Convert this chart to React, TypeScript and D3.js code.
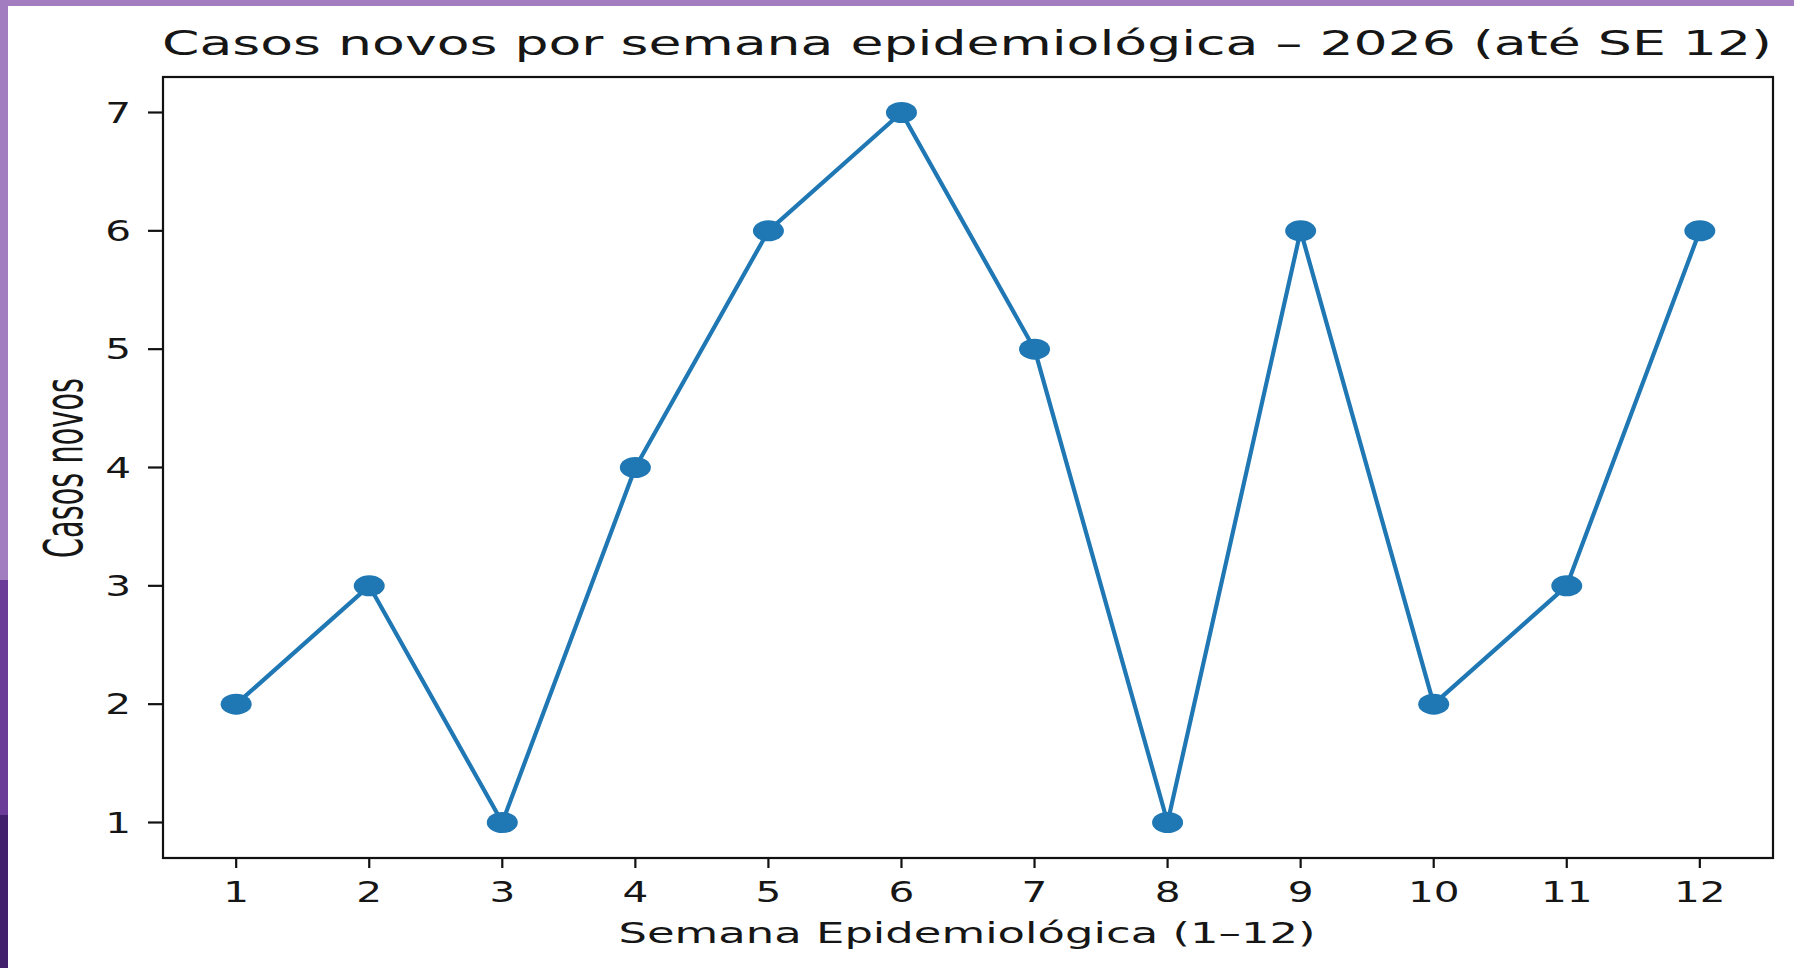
import React from "react";
import * as d3 from "d3";

const weeks: number[] = [1, 2, 3, 4, 5, 6, 7, 8, 9, 10, 11, 12];
const cases: number[] = [2, 3, 1, 4, 6, 7, 5, 1, 6, 2, 3, 6];
const yTicks: number[] = [1, 2, 3, 4, 5, 6, 7];
const titleText = "Casos novos por semana epidemiológica – 2026 (até SE 12)";
const xLabelText = "Semana Epidemiológica (1–12)";
const yLabelText = "Casos novos";

const W = 1794;
const H = 968;
const frame = { left: 163, right: 1773, top: 77, bottom: 858 };
const FONT = "DejaVu Sans, Verdana, sans-serif";
const TXT = "#161616";
const BLUE = "#1f77b4";
const SX = 1.45;
const TSX = 1.55;

export default function App() {
  const x = d3.scaleLinear().domain([0.45, 12.55]).range([frame.left, frame.right]);
  const y = d3.scaleLinear().domain([0.7, 7.3]).range([frame.bottom, frame.top]);
  const line = d3
    .line<number>()
    .x((_, i) => x(weeks[i]))
    .y((d) => y(d));

  return (
    <svg
      width={W}
      height={H}
      style={{ position: "fixed", left: 0, top: 0, background: "#fff" }}
      xmlns="http://www.w3.org/2000/svg"
    >
      <rect x={0} y={0} width={W} height={H} fill="#ffffff" />
      {/* slide decorations */}
      <rect x={0} y={0} width={W} height={6} fill="#a27dc0" />
      <rect x={0} y={0} width={8} height={H} fill="#a27dc0" />
      <rect x={0} y={580} width={8} height={235} fill="#6b3d98" />
      <rect x={0} y={815} width={8} height={H - 815} fill="#42206b" />

      {/* title */}
      <text
        transform={`translate(${(frame.left + frame.right) / 2 - 1},${55}) scale(${TSX},1)`}
        fontFamily={FONT}
        fontSize={34}
        fill={TXT}
        textAnchor="middle"
        textLength={1610 / TSX}
        lengthAdjust="spacingAndGlyphs"
      >
        {titleText}
      </text>

      {/* line + markers */}
      <path d={line(cases) || ""} fill="none" stroke={BLUE} strokeWidth={4.2} strokeLinejoin="round" />
      {cases.map((v, i) => (
        <ellipse key={i} cx={x(weeks[i])} cy={y(v)} rx={15.5} ry={10.5} fill={BLUE} />
      ))}

      {/* frame */}
      <rect
        x={frame.left}
        y={frame.top}
        width={frame.right - frame.left}
        height={frame.bottom - frame.top}
        fill="none"
        stroke="#111"
        strokeWidth={2.2}
      />

      {/* x ticks */}
      {weeks.map((w) => (
        <g key={"xt" + w}>
          <line x1={x(w)} x2={x(w)} y1={frame.bottom} y2={frame.bottom + 10} stroke="#111" strokeWidth={2.2} />
          <text
            transform={`translate(${x(w)},${902}) scale(${SX},1)`}
            fontFamily={FONT}
            fontSize={28}
            fill={TXT}
            textAnchor="middle"
          >
            {w}
          </text>
        </g>
      ))}

      {/* y ticks */}
      {yTicks.map((t) => (
        <g key={"yt" + t}>
          <line x1={frame.left - 15} x2={frame.left} y1={y(t)} y2={y(t)} stroke="#111" strokeWidth={2.2} />
          <text
            transform={`translate(${131},${y(t) + 10}) scale(${SX},1)`}
            fontFamily={FONT}
            fontSize={28}
            fill={TXT}
            textAnchor="end"
          >
            {t}
          </text>
        </g>
      ))}

      {/* x label */}
      <text
        transform={`translate(${967},${943}) scale(${TSX},1)`}
        fontFamily={FONT}
        fontSize={29}
        fill={TXT}
        textAnchor="middle"
        textLength={697 / TSX}
        lengthAdjust="spacingAndGlyphs"
      >
        {xLabelText}
      </text>

      {/* y label */}
      <text
        transform={`translate(${82},${468}) rotate(-90) scale(1,1.4)`}
        fontFamily={FONT}
        fontSize={38}
        fill={TXT}
        textAnchor="middle"
        textLength={180}
        lengthAdjust="spacingAndGlyphs"
      >
        {yLabelText}
      </text>
    </svg>
  );
}
